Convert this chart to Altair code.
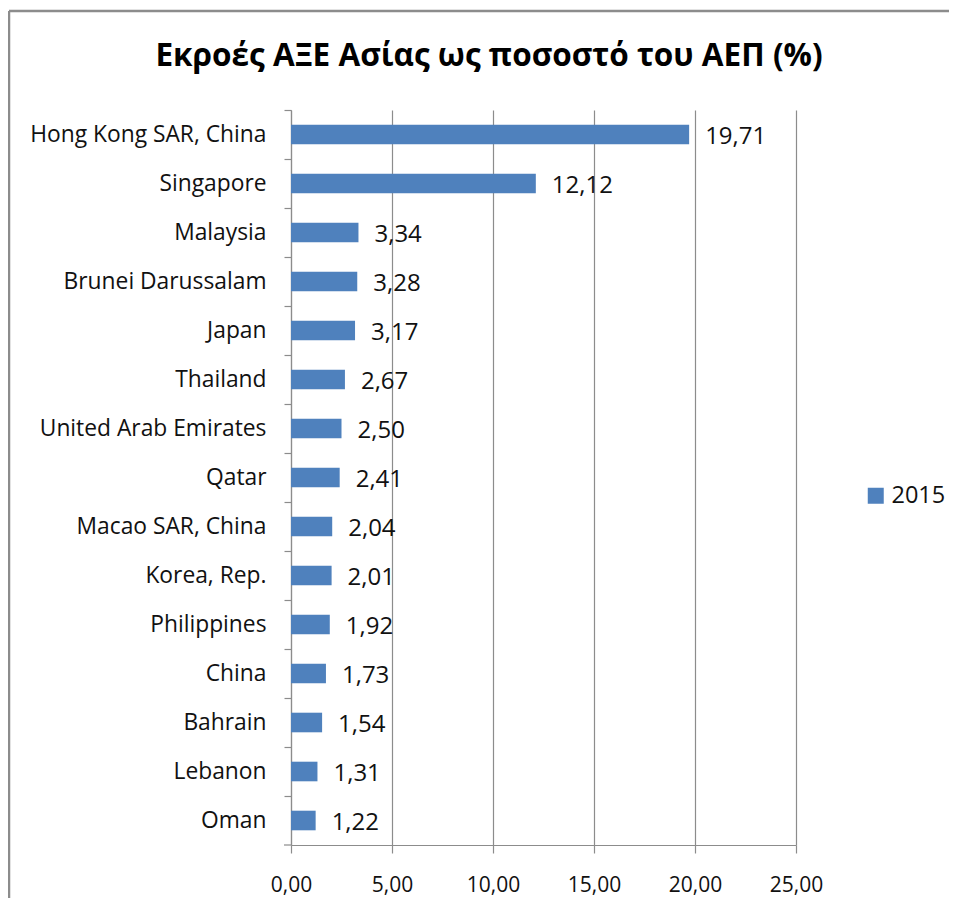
import altair as alt
import pandas as pd

countries = ["Hong Kong SAR, China", "Singapore", "Malaysia", "Brunei Darussalam", "Japan",
             "Thailand", "United Arab Emirates", "Qatar", "Macao SAR, China", "Korea, Rep.",
             "Philippines", "China", "Bahrain", "Lebanon", "Oman"]
values = [19.71, 12.12, 3.34, 3.28, 3.17, 2.67, 2.50, 2.41, 2.04, 2.01, 1.92, 1.73, 1.54, 1.31, 1.22]
series = ["2015"] * len(countries)
x_ticks = [0, 5, 10, 15, 20, 25]
title_text = ["Εκροές ΑΞΕ Ασίας ως ποσοστό του ΑΕΠ (%)"]

df = pd.DataFrame({"country": countries, "value": values, "year": series})

FONT = "Open Sans"
BLUE = "#4F81BD"
GRAY = "#8C8C8C"

base = alt.Chart(df)

bars = base.mark_bar(color=BLUE).encode(
    y=alt.Y("country:N", sort=countries, title=None,
            scale=alt.Scale(paddingInner=0.6, paddingOuter=0.3),
            axis=alt.Axis(labelFont=FONT, labelFontSize=22.8, labelColor="#111111",
                          labelPadding=18, labelLimit=0, tickSize=7, tickColor=GRAY,
                          domainColor=GRAY, domainWidth=1.2, tickWidth=1.2,
                          tickOffset=-24.5, labelOffset=24.5)),
    x=alt.X("value:Q", title=None,
            scale=alt.Scale(domain=[0, 25], nice=False),
            axis=alt.Axis(values=x_ticks, labelFont=FONT, labelFontSize=21,
                          labelColor="#111111", labelPadding=21, labelFlush=False,
                          tickSize=8, tickColor=GRAY, domainColor=GRAY, gridColor=GRAY,
                          gridWidth=1.2, domainWidth=1.2, tickWidth=1.2,
                          labelExpr="replace(format(datum.value, '.2f'), '.', ',')")),
    fill=alt.Fill("year:N", scale=alt.Scale(range=[BLUE]), title=None,
                  legend=alt.Legend(orient="none", legendX=573, legendY=374,
                                    symbolType="square", symbolSize=256,
                                    symbolStrokeWidth=0, labelFont=FONT,
                                    labelFontSize=23.5, labelColor="#111111",
                                    labelOffset=4, labelLimit=0)),
)

labels = base.transform_calculate(
    lab="replace(format(datum.value, '.2f'), '.', ',')"
).mark_text(align="left", baseline="middle", dx=16, dy=2, font=FONT, fontSize=24,
            color="#111111").encode(
    y=alt.Y("country:N", sort=countries),
    x=alt.X("value:Q"),
    text="lab:N",
)

title = alt.Chart(pd.DataFrame({"t": title_text})).mark_text(
    align="center", baseline="alphabetic", font=FONT, fontSize=31.5, fontWeight="bold",
    color="#000000").encode(x=alt.value(198), y=alt.value(-44), text="t:N")

frame_df = pd.DataFrame({"k": [0]})
left_border = alt.Chart(frame_df).mark_rule(color=GRAY, strokeWidth=2.5).encode(
    x=alt.value(-282), y=alt.value(-99), y2=alt.value(800))
top_border = alt.Chart(frame_df).mark_rule(color=GRAY, strokeWidth=2.5).encode(
    x=alt.value(-282), x2=alt.value(670), y=alt.value(-99))
corner_tick = alt.Chart(frame_df).mark_rule(color=GRAY, strokeWidth=1.2).encode(
    x=alt.value(-7), x2=alt.value(0), y=alt.value(735))

chart = alt.layer(bars, labels, title, left_border, top_border, corner_tick).properties(
    width=505, height=735,
    autosize=alt.AutoSizeParams(type="none"),
    padding={"left": 283, "top": 102, "right": 153, "bottom": 53},
).configure_view(stroke=None).configure_axisY(grid=False)

chart.save("out.html", embed_options={"renderer": "svg", "actions": False})
